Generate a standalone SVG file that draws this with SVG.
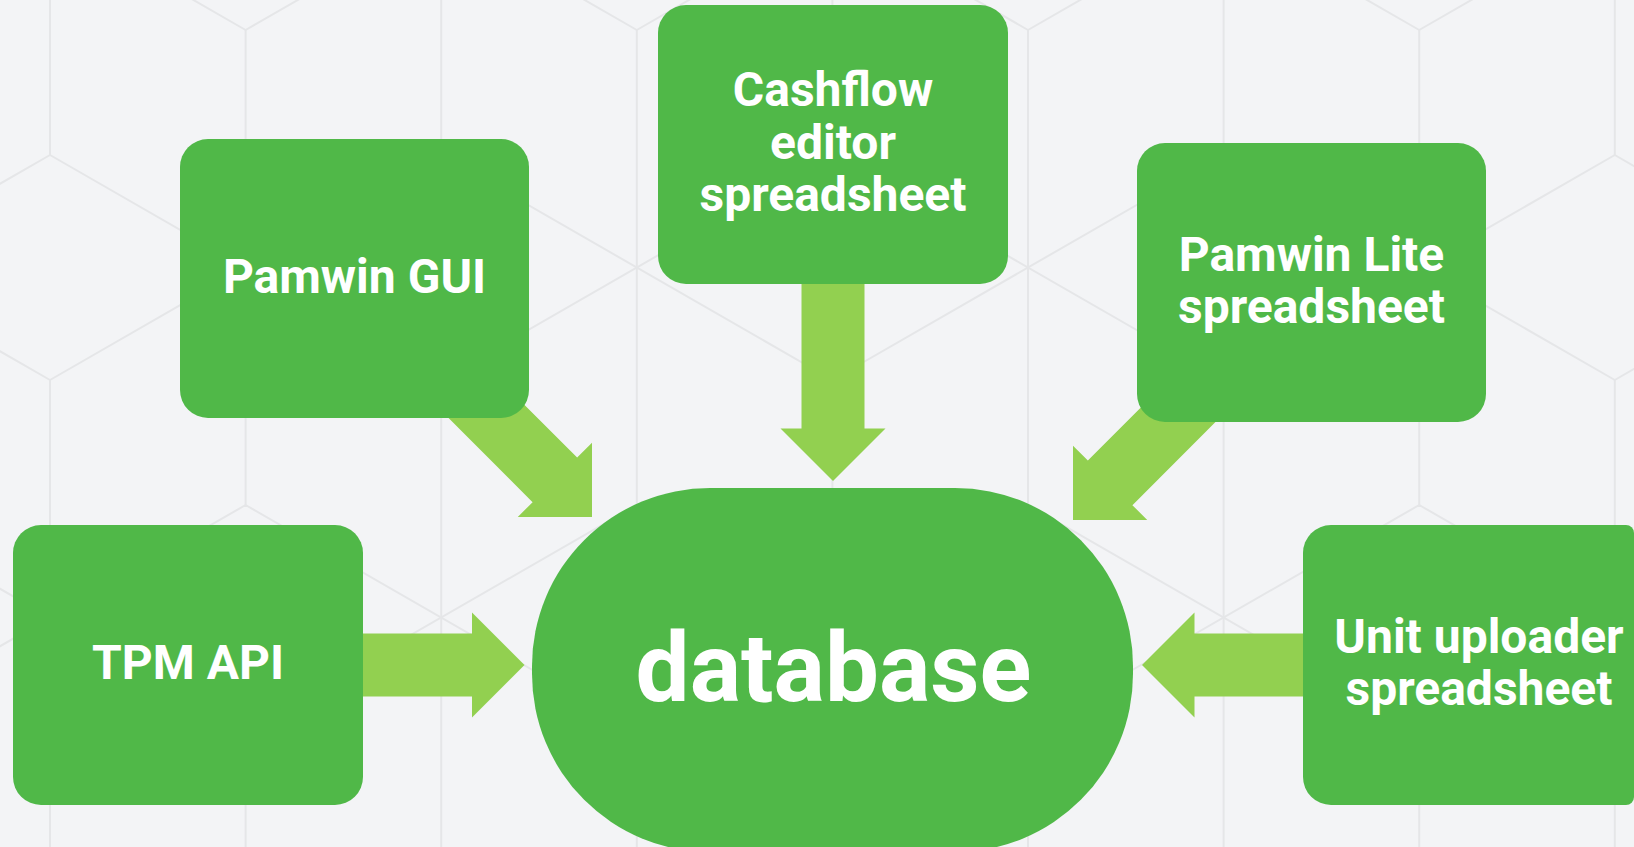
<svg xmlns="http://www.w3.org/2000/svg" xmlns:xlink="http://www.w3.org/1999/xlink" width="1634" height="847" viewBox="0 0 1634 847">
<style>
.bg{fill:#F3F4F6}
.grid{stroke:#E5E6E8;stroke-width:2;fill:none}
.box{fill:#50B848}
.arrow{fill:#92D050}
.lbl{font-family:Roboto,"Liberation Sans",sans-serif;font-weight:700;font-size:48px;fill:#FFFFFF;text-anchor:middle}
.big{font-size:96px}
</style>
<defs>
<path id="arr" d="M-200,-31.5 H-52.5 V-52.5 L0,0 L-52.5,52.5 V31.5 H-200 Z"/>
<path id="arrS" d="M-170,-31.5 H-52.5 V-52.5 L0,0 L-52.5,52.5 V31.5 H-170 Z"/>
</defs>
<rect class="bg" x="0" y="0" width="1634" height="847"/>
<g id="grid" class="grid">
<path d="M50,0V155M50,380V847M441.2,0V155M441.2,380V847M832.4,0V155M832.4,380V847M1223.6,0V155M1223.6,380V847M1614.8,0V155M1614.8,380V847"/>
<path d="M245.6,30V505M245.6,730V847M636.8,30V505M636.8,730V847M1028,30V505M1028,730V847M1419.2,30V505M1419.2,730V847"/>
<path d="M-341.2,155L50,380M50,155L441.2,380M441.2,155L832.4,380M832.4,155L1223.6,380M1223.6,155L1614.8,380M1614.8,155L2006,380M50,155L-341.2,380M441.2,155L50,380M832.4,155L441.2,380M1223.6,155L832.4,380M1614.8,155L1223.6,380M2006,155L1614.8,380"/>
<path d="M-145.6,-195L245.6,30M245.6,-195L636.8,30M636.8,-195L1028,30M1028,-195L1419.2,30M1419.2,-195L1810.4,30M245.6,-195L-145.6,30M636.8,-195L245.6,30M1028,-195L636.8,30M1419.2,-195L1028,30M1810.4,-195L1419.2,30"/>
<path d="M-145.6,505L245.6,730M245.6,505L636.8,730M636.8,505L1028,730M1028,505L1419.2,730M1419.2,505L1810.4,730M245.6,505L-145.6,730M636.8,505L245.6,730M1028,505L636.8,730M1419.2,505L1028,730M1810.4,505L1419.2,730"/>
</g>
<g id="connectors" class="arrow">
<use xlink:href="#arr" transform="translate(833,481) rotate(90)"/>
<use xlink:href="#arrS" transform="translate(524.5,665)"/>
<use xlink:href="#arrS" transform="translate(1142,665) rotate(180)"/>
<use xlink:href="#arr" transform="translate(592,517) rotate(45)"/>
<use xlink:href="#arr" transform="translate(1073,520) rotate(135)"/>
</g>
<g id="node-pamwin-gui">
<rect class="box" x="180" y="139" width="349" height="279" rx="28"/>
<text class="lbl" x="354.5" y="293">Pamwin GUI</text>
</g>
<g id="node-cashflow">
<rect class="box" x="658" y="5" width="350" height="279" rx="28"/>
<text class="lbl" x="833" y="106">Cashflow</text>
<text class="lbl" x="833" y="159">editor</text>
<text class="lbl" x="833" y="211">spreadsheet</text>
</g>
<g id="node-pamwin-lite">
<rect class="box" x="1137" y="143" width="349" height="279" rx="28"/>
<text class="lbl" x="1311.5" y="271">Pamwin Lite</text>
<text class="lbl" x="1311.5" y="323">spreadsheet</text>
</g>
<g id="node-tpm-api">
<rect class="box" x="13" y="525" width="350" height="280" rx="28"/>
<text class="lbl" x="188" y="679">TPM API</text>
</g>
<g id="node-unit-uploader">
<path class="box" d="M1331,525 H1626 A8,8 0 0 1 1634,533 V797 A8,8 0 0 1 1626,805 H1331 A28,28 0 0 1 1303,777 V553 A28,28 0 0 1 1331,525 Z"/>
<text class="lbl" x="1479" y="653">Unit uploader</text>
<text class="lbl" x="1479" y="705">spreadsheet</text>
</g>
<g id="node-database">
<rect class="box" x="532" y="488" width="601" height="364" rx="178" ry="178"/>
<text class="lbl big" x="833.5" y="701">database</text>
</g>
</svg>
